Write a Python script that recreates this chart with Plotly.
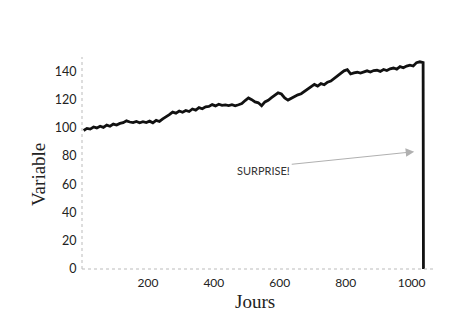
import plotly.graph_objects as go

days = [5, 15, 25, 35, 45, 55, 65, 75, 85, 95,
        105, 115, 125, 135, 145, 155, 165, 175, 185, 195,
        205, 215, 225, 235, 245, 255, 265, 275, 285, 295,
        305, 315, 325, 335, 345, 355, 365, 375, 385, 395,
        405, 415, 425, 435, 445, 455, 465, 475, 485, 495,
        505, 515, 525, 535, 545, 555, 565, 575, 585, 595,
        605, 615, 625, 635, 645, 655, 665, 675, 685, 695,
        705, 715, 725, 735, 745, 755, 765, 775, 785, 795,
        805, 815, 825, 835, 845, 855, 865, 875, 885, 895,
        905, 915, 925, 935, 945, 955, 965, 975, 985, 995,
        1005, 1015, 1025, 1035, 1036]
values = [98, 99.5, 99, 100.5, 99.8, 101, 100.2, 101.8, 101, 102.5,
          101.8, 103, 103.5, 104.8, 104, 103.6, 104.4, 103.5, 104.2, 103.6,
          104.6, 103.4, 105.2, 104.4, 106.2, 107.5, 109.2, 111, 110.3, 111.8,
          110.9, 112.2, 111.4, 113.2, 112.4, 114.2, 113.4, 114.8, 115, 116.3,
          115.4, 116.6, 115.8, 116.1, 115.6, 116.3, 115.5, 116.2, 117, 119.2,
          121, 119.8, 118.2, 117.6, 115.5, 118.2, 119.4, 121.2, 123, 124.6,
          123.8, 121, 119.5, 120.8, 121.8, 123.2, 124, 125.8, 127, 128.8,
          130.6, 129.4, 131.2, 130.4, 132.2, 133, 134.8, 136, 138.2, 140.2,
          141, 138, 138.8, 139.2, 138.6, 139.6, 140.2, 139.4, 140.4, 140.6,
          139.8, 141.2, 140.4, 141.6, 142.2, 141.4, 143.2, 142.4, 143.6, 144.2,
          143.6, 146, 146.6, 146, 0]

x_ticks = [200, 400, 600, 800, 1000]
y_ticks = [0, 20, 40, 60, 80, 100, 120, 140]

L, R, T, B, W, H = 82, 17, 57, 51, 451, 320
pw, ph = W - L - R, H - T - B

fig = go.Figure()
fig.add_trace(go.Scatter(x=days, y=values, mode="lines",
                         line=dict(color="#111111", width=2.8),
                         showlegend=False, hoverinfo="skip"))

fig.add_annotation(x=1008, y=83, ax=465, ay=70, axref="x", ayref="y",
                   xref="x", yref="y", text="SURPRISE!", showarrow=True,
                   arrowhead=2, arrowsize=1.7, arrowwidth=1, arrowcolor="#b0b0b0",
                   xanchor="left", font=dict(family="Lato", size=11, color="#333333"))

fig.add_annotation(x=(38 - L) / pw, y=1 - (175 - T) / ph, xref="paper", yref="paper",
                   text="Variable", showarrow=False, textangle=-90,
                   xanchor="center", yanchor="middle",
                   font=dict(family="Liberation Serif", size=19, color="#222222"))
fig.add_annotation(x=(255 - L) / pw, y=1 - (301 - T) / ph, xref="paper", yref="paper",
                   text="Jours", showarrow=False, xanchor="center", yanchor="middle",
                   font=dict(family="Liberation Serif", size=19, color="#222222"))

fig.add_shape(type="line", xref="paper", yref="paper", x0=0, x1=0, y0=0, y1=1,
              line=dict(color="#bbbbbb", width=1, dash="dot"))
fig.add_shape(type="line", xref="paper", yref="paper", x0=0, x1=1, y0=0, y1=0,
              line=dict(color="#bbbbbb", width=1, dash="dot"))

fig.update_layout(
    width=W, height=H,
    margin=dict(l=L, r=R, t=T, b=B),
    paper_bgcolor="white", plot_bgcolor="white",
    xaxis=dict(range=[0, 1068], tickvals=x_ticks, showgrid=False, zeroline=False,
               showline=False, ticks="outside", ticklen=3, tickcolor="rgba(0,0,0,0)",
               tickfont=dict(family="Lato", size=12, color="#222222")),
    yaxis=dict(range=[0, 150], tickvals=y_ticks, showgrid=False, zeroline=False,
               showline=False, ticks="outside", ticklen=2, tickcolor="rgba(0,0,0,0)",
               tickfont=dict(family="Lato", size=12.5, color="#222222")),
)

fig.write_html("out.html")
